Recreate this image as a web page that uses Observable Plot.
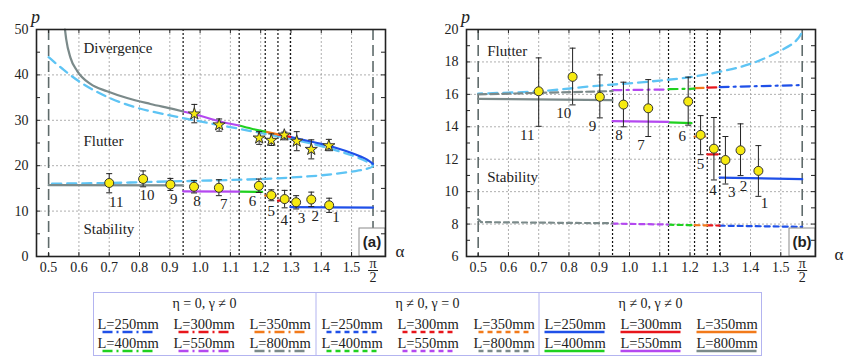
<!DOCTYPE html>
<html><head><meta charset="utf-8">
<script src="https://cdn.jsdelivr.net/npm/d3@7"></script>
<script src="https://cdn.jsdelivr.net/npm/@observablehq/plot@0.6"></script>
<style>
body{margin:0;background:#fff;}
#wrap{position:relative;width:865px;height:357px;font-family:"Liberation Serif",serif;}
#left{position:absolute;left:0;top:0;}
#right{position:absolute;left:430px;top:0;}
#legend{position:absolute;left:93px;top:292px;}
</style></head>
<body><div id="wrap"><div id="left"></div><div id="right"></div><div id="legend"></div></div>
<script>
// ---------------- data ----------------
const HALF_PI = Math.PI / 2;
const lengthLabels = ["L=250mm","L=300mm","L=350mm","L=400mm","L=550mm","L=800mm"];
const segBounds = [0.944, 1.129, 1.215, 1.257, 1.298];          // limits between lengths
const xTickVals = [0.5,0.6,0.7,0.8,0.9,1.0,1.1,1.2,1.3,1.4,1.5];
const xGridVals = [0.6,0.7,0.8,0.9,1.0,1.1,1.2,1.3,1.4,1.5];
const yTicksA = [0,10,20,30,40,50];
const yFrameTicksA = [0,5,10,15,20,25,30,35,40,45,50];
const yTicksB = [6,8,10,12,14,16,18,20];
const yFrameTicksB = [6,7,8,9,10,11,12,13,14,15,16,17,18,19,20];

// upper (divergence/flutter) curve, left panel, order 250..800
const upperByL = [
  [[1.298,26.35],[1.35,25.55],[1.4,24.8],[1.45,23.9],[1.5,22.8],[1.53,22.0],[1.55,21.4],[1.5708,20.4]],
  [[1.257,26.9],[1.298,26.35]],
  [[1.215,27.5],[1.257,26.9]],
  [[1.129,28.85],[1.17,28.15],[1.215,27.5]],
  [[0.944,31.95],[1.0,31.0],[1.063,29.8],[1.129,28.85]],
  [[0.554,50],[0.558,47.9],[0.572,43.8],[0.594,40.9],[0.638,38.0],[0.693,36.4],[0.759,34.9],[0.836,33.6],[0.913,32.45],[0.944,31.95]]
];
// stability boundary (eta!=0, gamma!=0), order 250..800
const stabByL = [
  [[1.298,10.87],[1.5708,10.77]],
  [[1.257,12.3],[1.292,12.3]],
  [[1.215,13.4],[1.25,13.4]],
  [[1.129,14.27],[1.205,14.22]],
  [[0.944,14.35],[1.129,14.3]],
  [[0.5,15.72],[0.944,15.65]]
];
// eta = 0, gamma != 0 (right panel, ~16.3)
const etaZeroByL = [
  [[1.298,16.45],[1.5708,16.57]],
  [[1.257,16.42],[1.298,16.43]],
  [[1.215,16.38],[1.257,16.4]],
  [[1.129,16.32],[1.215,16.35]],
  [[0.944,16.26],[1.129,16.3]],
  [[0.5,16.0],[0.944,16.2]]
];
// eta != 0, gamma = 0 (right panel, ~8)
const gammaZeroByL = [
  [[1.298,7.9],[1.5708,7.83]],
  [[1.257,7.92],[1.298,7.91]],
  [[1.215,7.93],[1.257,7.92]],
  [[1.129,7.96],[1.215,7.93]],
  [[0.944,8.03],[1.129,7.97]],
  [[0.5,8.3],[0.51,8.12],[0.944,8.05]]
];
// light-blue dashed reference curve
const lightBlue = [[0.5,43.9],[0.55,41.1],[0.6,38.6],[0.65,36.6],[0.7,34.95],[0.75,33.65],[0.8,32.6],[0.9,31.1],[1.0,29.75],[1.1,28.5],[1.2,27.2],[1.3,25.9],[1.4,24.3],[1.5,22.3],[1.55,20.9],[1.5708,20.0],[1.55,19.3],[1.5,18.7],[1.4,17.88],[1.3,17.4],[1.2,17.06],[1.1,16.85],[1.0,16.68],[0.9,16.54],[0.7,16.19],[0.5,16.05]];

// experiments 1..11
const ptAlpha = [1.426,1.367,1.317,1.279,1.235,1.194,1.062,0.980,0.902,0.812,0.700];
const ptP     = [11.28,12.55,11.95,12.65,13.5,15.56,15.14,15.37,15.85,17.08,16.19];
const ptLo    = [9.71,10.99,10.47,10.72,12.28,14.1,13.4,14.0,14.55,15.35,14.03];
const ptHi    = [12.84,14.18,13.4,14.57,14.69,17.06,16.91,16.75,17.2,18.85,18.25];
const ptNames = ["1","2","3","4","5","6","7","8","9","10","11"];
const labelAlphaA = [1.449,1.380,1.335,1.278,1.235,1.173,1.078,0.990,0.913,0.825,0.723];
const labelPA     = [8.6,8.9,8.5,7.9,9.9,12.2,11.45,12.1,12.56,13.4,11.96];
const labelAlphaB = [1.446,1.377,1.338,1.276,1.235,1.174,1.038,0.965,0.878,0.783,0.662];
const labelPB     = [9.3,10.31,9.96,10.06,11.71,13.4,12.88,13.46,14.01,14.83,13.46];
// flutter experiments (stars), left panel
const starAlpha = [0.981,1.063,1.195,1.235,1.278,1.319,1.367,1.425];
const starP     = [31.4,29.0,26.1,25.6,26.75,25.4,23.6,24.4];
const starLo    = [29.45,27.6,24.7,24.45,25.7,23.3,21.5,23.3];
const starHi    = [33.5,30.3,27.5,27.0,27.4,27.5,25.7,25.8];

const regionA = [["Divergence",0.615,45.8],["Flutter",0.615,25.5],["Stability",0.615,5.95]];
const regionB = [["Flutter",0.53,18.66],["Stability",0.53,10.88]];
const legendTitles = ["η = 0, γ ≠ 0","η ≠ 0, γ = 0","η ≠ 0, γ ≠ 0"];

// ---------------- styles ----------------
const colors = ["#1f50e8","#e8151b","#f27a1a","#1fd11f","#b448f0","#7b8a8a"];
const lightBlueColor = "#5ec4f4";
const serif = "'Liberation Serif', serif";
const capSym = {draw(ctx, size){ const w = Math.sqrt(size/Math.PI); ctx.moveTo(-w,0); ctx.lineTo(w,0); }};
const xy = {x: d => d[0], y: d => d[1]};
const FRAME_W = 349, FRAME_H = 227;

function tagMark(label){
  return (index, scales, values, dims) => {
    const g = d3.create("svg:g");
    const x1 = dims.width - dims.marginRight, y1 = dims.height - dims.marginBottom;
    g.append("rect").attr("x", x1-26).attr("y", y1-28).attr("width", 26).attr("height", 28)
      .attr("fill", "white").attr("stroke", "#8a8a8a").attr("stroke-width", 1);
    g.append("text").attr("x", x1-13).attr("y", y1-9).attr("text-anchor","middle")
      .attr("font-family","'Liberation Sans', Arial, sans-serif").attr("font-weight","bold")
      .attr("font-size", 15).attr("fill","#222").text(label);
    return g.node();
  };
}

function commonMarks(yGrid){
  return [
    Plot.gridX(xGridVals, {stroke:"#9a9a9a", strokeOpacity:1, strokeDasharray:"2,2", strokeWidth:0.8}),
    Plot.gridY(yGrid, {stroke:"#9a9a9a", strokeOpacity:1, strokeDasharray:"2,2", strokeWidth:0.8}),
    Plot.ruleX([0.5, HALF_PI], {x: d => d, stroke:"#5f6b6b", strokeWidth:1.6, strokeDasharray:"11,5"}),
    Plot.ruleX(segBounds, {x: d => d, stroke:"#111", strokeWidth:1.2, strokeDasharray:"2,2"})
  ];
}

function frameMarks(label, yTicks, yFrameTicks, alphaDx, alphaDy){
  return [
    tagMark(label),
    Plot.frame({stroke:"#222", strokeWidth:1.6}),
    Plot.tickX(xTickVals, {x: d => d, insetBottom: FRAME_H-4, stroke:"#222", strokeWidth:1}),
    Plot.tickX(xTickVals, {x: d => d, insetTop: FRAME_H-4, stroke:"#222", strokeWidth:1}),
    Plot.tickY(yFrameTicks, {y: d => d, insetRight: FRAME_W-4, stroke:"#222", strokeWidth:1}),
    Plot.tickY(yFrameTicks, {y: d => d, insetLeft: FRAME_W-4, stroke:"#222", strokeWidth:1}),
    Plot.axisX({ticks: xTickVals, tickSize:0, tickPadding:6, tickFormat: d3.format(".1f"), label:null, fontSize:14}),
    Plot.axisY({ticks: yTicks, tickSize:0, tickPadding:8, label:null, fontSize:14}),
    Plot.text([HALF_PI], {x: d => d, frameAnchor:"bottom", text: () => "π\n2", lineAnchor:"top", lineHeight:0.95, dy:2.5, fontSize:14}),
    Plot.dot([HALF_PI], {x: d => d, frameAnchor:"bottom", dy:14, symbol: capSym, r:5, stroke:"#222", strokeWidth:1}),
    Plot.text([0], {frameAnchor:"bottom-right", text: () => "α", dx: alphaDx, dy: alphaDy, textAnchor:"start", fontSize:17}),
    Plot.text([0], {frameAnchor:"top-left", text: () => "p", dx:-1, dy:-19, fontSize:18, fontStyle:"italic", textAnchor:"middle"})
  ];
}

const idx = d3.range(ptAlpha.length);
const sidx = d3.range(starAlpha.length);

function errorMarks(ix, ax, lo, hi){
  return [
    Plot.ruleX(ix, {x: i => ax[i], y1: i => lo[i], y2: i => hi[i], stroke:"#222", strokeWidth:1}),
    Plot.dot(ix, {x: i => ax[i], y: i => lo[i], symbol: capSym, r:3, stroke:"#222", strokeWidth:1, fill:"none"}),
    Plot.dot(ix, {x: i => ax[i], y: i => hi[i], symbol: capSym, r:3, stroke:"#222", strokeWidth:1, fill:"none"})
  ];
}

const plotStyle = {fontFamily: serif, fontSize: "14px", background: "transparent", overflow: "visible", color:"#222"};

// ---------------- left panel ----------------
const left = Plot.plot({
  width: 430, height: 292, marginLeft: 36, marginRight: 45, marginTop: 29, marginBottom: 36,
  x: {domain: [0.46, 1.612]}, y: {domain: [0, 50]},
  style: plotStyle,
  marks: [
    ...commonMarks([10,20,30,40]),
    Plot.line(lightBlue, {...xy, stroke: lightBlueColor, strokeWidth:2.3, strokeDasharray:"9,6", curve:"catmull-rom"}),
    ...upperByL.map((pts, k) => Plot.line(pts, {...xy, stroke: colors[k], strokeWidth:2.2, curve:"monotone-x"})),
    ...stabByL.map((pts, k) => Plot.line(pts, {...xy, stroke: colors[k], strokeWidth:2.2,
        strokeDasharray: (k === 1 || k === 2) ? "5,2" : null})),
    ...errorMarks(idx, ptAlpha, ptLo, ptHi),
    ...errorMarks(sidx, starAlpha, starLo, starHi),
    Plot.dot(idx, {x: i => ptAlpha[i], y: i => ptP[i], r:4.5, fill:"#f6ea10", stroke:"#333", strokeWidth:1}),
    Plot.dot(sidx, {x: i => starAlpha[i], y: i => starP[i], symbol:"star", r:3.8, fill:"#f6ea10", stroke:"#333", strokeWidth:1}),
    Plot.text(idx, {x: i => labelAlphaA[i], y: i => labelPA[i], text: i => ptNames[i], fontSize:15}),
    Plot.text(regionA, {x: d => d[1], y: d => d[2], text: d => d[0], textAnchor:"start", fontSize:15}),
    ...frameMarks("(a)", yTicksA, yFrameTicksA, 10, 0)
  ]
});
document.getElementById("left").append(left);

// ---------------- right panel ----------------
const right = Plot.plot({
  width: 435, height: 292, marginLeft: 36, marginRight: 50, marginTop: 29, marginBottom: 36,
  x: {domain: [0.4614, 1.6147]}, y: {domain: [6, 20]},
  style: plotStyle,
  marks: [
    ...commonMarks([8,10,12,14,16,18]),
    Plot.line(lightBlue, {...xy, stroke: lightBlueColor, strokeWidth:2.3, strokeDasharray:"9,6", curve:"catmull-rom", clip:true}),
    ...etaZeroByL.map((pts, k) => Plot.line(pts, {...xy, stroke: colors[k], strokeWidth:2.2,
        strokeDasharray: k === 5 ? "8,4" : "9,5,2,5"})),
    ...gammaZeroByL.map((pts, k) => Plot.line(pts, {...xy, stroke: colors[k], strokeWidth:2.2, strokeDasharray:"5,4"})),
    ...stabByL.map((pts, k) => Plot.line(pts, {...xy, stroke: colors[k], strokeWidth:2.2})),
    ...errorMarks(idx, ptAlpha, ptLo, ptHi),
    Plot.dot(idx, {x: i => ptAlpha[i], y: i => ptP[i], r:4.5, fill:"#f6ea10", stroke:"#333", strokeWidth:1}),
    Plot.text(idx, {x: i => labelAlphaB[i], y: i => labelPB[i], text: i => ptNames[i], fontSize:15}),
    Plot.text(regionB, {x: d => d[1], y: d => d[2], text: d => d[0], textAnchor:"start", fontSize:15}),
    ...frameMarks("(b)", yTicksB, yFrameTicksB, 19, 3)
  ]
});
document.getElementById("right").append(right);

// ---------------- legend ----------------
const LW = 669, LH = 64, secW = LW / 3;
const dashes = ["10,4,2,4", "5,4", null];
const legendOrder = [[0,1,2],[3,4,5]];
const colX = [4.5, 80.5, 156.5];
const lg = d3.create("svg").attr("width", LW).attr("height", LH + 1)
  .attr("font-family", serif).style("display","block");
lg.append("rect").attr("x",0.5).attr("y",0.5).attr("width",LW-1).attr("height",LH-1)
  .attr("fill","none").attr("stroke","#b3b4f0").attr("stroke-width",1);
[1,2].forEach(s => lg.append("line").attr("x1", s*secW).attr("x2", s*secW).attr("y1",0).attr("y2",LH)
  .attr("stroke","#b3b4f0").attr("stroke-width",1));
legendTitles.forEach((t, s) => {
  lg.append("text").attr("x", s*secW + secW/2).attr("y", 16).attr("text-anchor","middle")
    .attr("font-size", 14).attr("fill","#222").text(t);
  legendOrder.forEach((row, r) => row.forEach((k, c) => {
    const x0 = s*secW + colX[c] + (s > 0 ? 1 : 0), yb = 37 + r*19;
    lg.append("text").attr("x", x0).attr("y", yb).attr("font-size", 14.5)
      .attr("fill","#222").text(lengthLabels[k]);
    const ln = lg.append("line").attr("y1", yb + 3).attr("y2", yb + 3)
      .attr("stroke", colors[k]).attr("stroke-width", 2.5);
    if (s === 2) ln.attr("x1", x0).attr("x2", x0 + 60);
    else ln.attr("x1", x0 + 5).attr("x2", x0 + 57).attr("stroke-dasharray", dashes[s]);
  }));
});
document.getElementById("legend").append(lg.node());
</script>
</body></html>
